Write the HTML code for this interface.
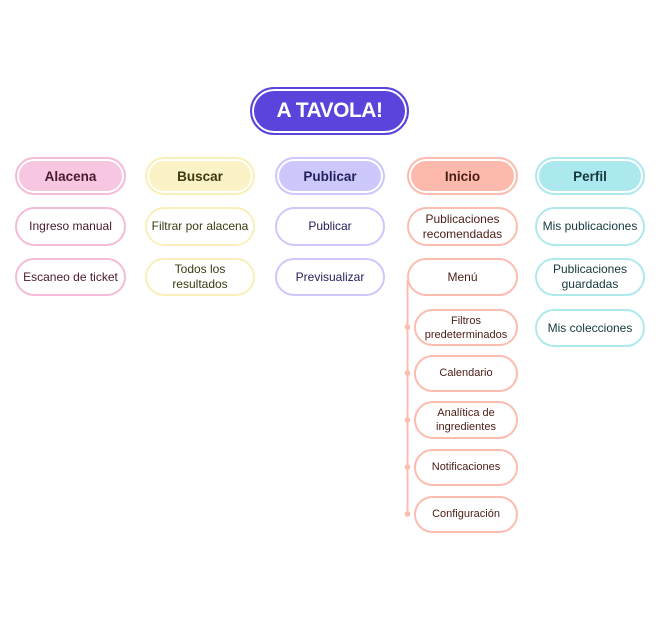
<!DOCTYPE html>
<html><head><meta charset="utf-8">
<style>
html,body{margin:0;padding:0;background:#fff;}
#root{position:relative;width:660px;height:620px;overflow:hidden;font-family:"Liberation Sans",sans-serif;}
.b{position:absolute;box-sizing:border-box;border-radius:20px;display:flex;align-items:center;justify-content:center;text-align:center;font-size:12px;line-height:15px;background:#fff;border:2px solid;}
.h{font-size:13.5px;font-weight:bold;box-shadow:inset 0 0 0 2px #fff;}
.title{position:absolute;left:250px;top:87px;width:159px;height:48px;box-sizing:border-box;border-radius:24px;background:#5a45dc;border:2px solid #5a45dc;box-shadow:inset 0 0 0 2px #fff;color:#fff;font-size:21px;font-weight:bold;display:flex;align-items:center;justify-content:center;letter-spacing:-0.5px;}
.pk{border-color:#f5bcd9;color:#4a1a2e;}
.yl{border-color:#f8f0b8;color:#3d3a12;}
.pu{border-color:#cdc8fb;color:#231e5c;}
.sa{border-color:#fcbcb0;color:#4a1d16;}
.cy{border-color:#aee9ee;color:#15393c;}
.pk.h{background:#f7c6e1;}
.yl.h{background:#fbf3c6;}
.pu.h{background:#cdc8fb;}
.sa.h{background:#fdb9ac;}
.cy.h{background:#ace9ef;}
</style></head><body>
<div id="root">
<div class="title">A TAVOLA!</div>

<div class="b h pk" style="left:15px;top:157px;width:111px;height:38px">Alacena</div>
<div class="b pk" style="left:15px;top:207px;width:111px;height:39px">Ingreso manual</div>
<div class="b pk" style="left:15px;top:258px;width:111px;height:38px">Escaneo de ticket</div>

<div class="b h yl" style="left:145px;top:157px;width:110px;height:38px">Buscar</div>
<div class="b yl" style="left:145px;top:207px;width:110px;height:39px">Filtrar por alacena</div>
<div class="b yl" style="left:145px;top:258px;width:110px;height:38px">Todos los<br>resultados</div>

<div class="b h pu" style="left:275px;top:157px;width:110px;height:38px">Publicar</div>
<div class="b pu" style="left:275px;top:207px;width:110px;height:39px">Publicar</div>
<div class="b pu" style="left:275px;top:258px;width:110px;height:38px">Previsualizar</div>

<svg style="position:absolute;left:0;top:0" width="660" height="620">
<line x1="407.5" y1="280" x2="407.5" y2="514" stroke="#fcbcb0" stroke-width="2"/>
<circle cx="407.5" cy="327" r="2.8" fill="#fcbcb0"/>
<circle cx="407.5" cy="373" r="2.8" fill="#fcbcb0"/>
<circle cx="407.5" cy="420" r="2.8" fill="#fcbcb0"/>
<circle cx="407.5" cy="467" r="2.8" fill="#fcbcb0"/>
<circle cx="407.5" cy="514" r="2.8" fill="#fcbcb0"/>
</svg>

<div class="b h sa" style="left:407px;top:157px;width:111px;height:38px">Inicio</div>
<div class="b sa" style="left:407px;top:207px;width:111px;height:39px">Publicaciones<br>recomendadas</div>
<div class="b sa" style="left:407px;top:258px;width:111px;height:38px">Menú</div>
<div class="b sa" style="left:414px;top:309px;width:104px;height:37px;font-size:11px;line-height:14px">Filtros<br>predeterminados</div>
<div class="b sa" style="left:414px;top:355px;width:104px;height:37px;font-size:11px">Calendario</div>
<div class="b sa" style="left:414px;top:401px;width:104px;height:38px;font-size:11px;line-height:14px">Analítica de<br>ingredientes</div>
<div class="b sa" style="left:414px;top:449px;width:104px;height:37px;font-size:11px">Notificaciones</div>
<div class="b sa" style="left:414px;top:496px;width:104px;height:37px;font-size:11px">Configuración</div>

<div class="b h cy" style="left:535px;top:157px;width:110px;height:38px">Perfil</div>
<div class="b cy" style="left:535px;top:207px;width:110px;height:39px">Mis publicaciones</div>
<div class="b cy" style="left:535px;top:258px;width:110px;height:38px">Publicaciones<br>guardadas</div>
<div class="b cy" style="left:535px;top:309px;width:110px;height:38px">Mis colecciones</div>
</div>
</body></html>
